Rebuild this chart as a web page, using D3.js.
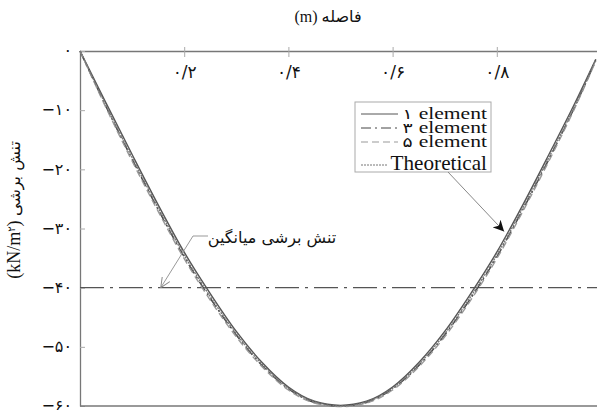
<!DOCTYPE html>
<html>
<head>
<meta charset="utf-8">
<script src="https://cdn.jsdelivr.net/npm/d3@7"></script>
<style>
  body { margin: 0; background: #fff; }
  svg { display: block; }
  text { font-family: "Liberation Serif", "DejaVu Sans", serif; fill: #111; }
  .fa { font-family: "DejaVu Sans", sans-serif; }
  .la { font-family: "Liberation Serif", serif; }
</style>
</head>
<body>
<div id="chart"></div>
<script>
// distance along the section (m) and shear stress (kN/m2)
const distance = [0, 0.05, 0.1, 0.15, 0.2, 0.25, 0.3, 0.35, 0.4, 0.45, 0.5, 0.55, 0.6, 0.65, 0.7, 0.75, 0.8, 0.85, 0.9, 0.95, 0.99];
const theoretical = [0, -9.2, -18, -26.5, -34.5, -41.5, -47.8, -53, -57, -59.3, -60, -59.3, -57, -53, -47.8, -41.5, -34.5, -26.5, -18, -9.2, -1.5];
const element1 = [0, -8.8, -17.5, -26, -34, -41, -47.4, -52.7, -56.8, -59.2, -59.9, -59.2, -56.8, -52.7, -47.4, -41, -34, -26, -17.5, -8.8, -1.4];
const element3 = [0, -9.4, -18.3, -26.8, -34.8, -41.8, -48, -53.2, -57.1, -59.4, -60, -59.4, -57.1, -53.2, -48, -41.8, -34.8, -26.8, -18.3, -9.4, -1.6];
const element5 = [0, -9.6, -18.6, -27.1, -35.1, -42.1, -48.3, -53.4, -57.3, -59.5, -60.1, -59.5, -57.3, -53.4, -48.3, -42.1, -35.1, -27.1, -18.6, -9.6, -1.7];
const averageStress = -40;

const xTicks = [0.2, 0.4, 0.6, 0.8];
const xTickLabels = ['۰/۲', '۰/۴', '۰/۶', '۰/۸'];
const yTicks = [0, -10, -20, -30, -40, -50, -60];
const yTickLabels = ['۰', '−۱۰', '−۲۰', '−۳۰', '−۴۰', '−۵۰', '−۶۰'];
const seriesDigits = ['۱', '۳', '۵', ''];
const seriesNames = ['element', 'element', 'element', 'Theoretical'];

const width = 597, height = 410;

const svg = d3.select('#chart')
  .append('svg')
    .attr('width', width)
    .attr('height', height);

const defs = svg.append('defs');
defs.append('marker')
    .attr('id', 'openArrow')
    .attr('viewBox', '0 0 10 10')
    .attr('refX', 10).attr('refY', 5)
    .attr('markerWidth', 10).attr('markerHeight', 10)
    .attr('markerUnits', 'userSpaceOnUse')
    .attr('orient', 'auto')
  .append('path')
    .attr('d', 'M0,0.5 L10,5 L0,9.5')
    .attr('fill', 'none')
    .attr('stroke', '#888')
    .attr('stroke-width', 1);
defs.append('marker')
    .attr('id', 'solidArrow')
    .attr('viewBox', '0 0 10 10')
    .attr('refX', 10).attr('refY', 5)
    .attr('markerWidth', 11).attr('markerHeight', 11)
    .attr('markerUnits', 'userSpaceOnUse')
    .attr('orient', 'auto')
  .append('path')
    .attr('d', 'M0,0 L10,5 L0,10 L3,5 Z')
    .attr('fill', '#111');

const x = d3.scaleLinear().domain([0, 1]).range([80, 601]);
const y = d3.scaleLinear().domain([0, -60]).range([51, 406]);

// top axis: ticks cross the line, labels under it
const xAxis = svg.append('g')
    .attr('transform', `translate(0,${y(0)})`)
    .call(d3.axisBottom(x)
      .tickValues(xTicks)
      .tickFormat((d, i) => xTickLabels[i])
      .tickSizeInner(6)
      .tickSizeOuter(0)
      .tickPadding(9));
xAxis.select('.domain').attr('stroke', '#777').attr('stroke-width', 1.3);
xAxis.selectAll('.tick line').attr('y1', -4).attr('stroke', '#aaa');
xAxis.selectAll('.tick text')
    .attr('class', 'fa')
    .style('font-size', '17px')
    .attr('fill', '#111');

const yAxis = svg.append('g')
    .attr('transform', `translate(${x(0)},0)`)
    .call(d3.axisLeft(y)
      .tickValues(yTicks)
      .tickFormat((d, i) => yTickLabels[i])
      .tickSizeInner(4)
      .tickSizeOuter(0)
      .tickPadding(4));
yAxis.select('.domain').attr('stroke', '#777').attr('stroke-width', 1.3);
yAxis.selectAll('.tick line').attr('x2', 5).attr('stroke', '#aaa');
yAxis.selectAll('.tick text')
    .attr('class', 'fa')
    .style('font-size', '16px')
    .attr('dy', '0.3em')
    .attr('fill', '#111');

svg.append('line')
    .attr('x1', x(0)).attr('x2', x(1))
    .attr('y1', y(-60)).attr('y2', y(-60))
    .attr('stroke', '#777')
    .attr('stroke-width', 1.3);

// average shear stress line
svg.append('line')
    .attr('x1', x(0)).attr('x2', x(1))
    .attr('y1', y(averageStress)).attr('y2', y(averageStress))
    .attr('stroke', '#555')
    .attr('stroke-width', 1.2)
    .attr('stroke-dasharray', '24,6,3,6');

const series = [
  {digit: seriesDigits[0], name: seriesNames[0], values: element1, color: '#555', dash: null},
  {digit: seriesDigits[1], name: seriesNames[1], values: element3, color: '#444', dash: '10,4,2,4'},
  {digit: seriesDigits[2], name: seriesNames[2], values: element5, color: '#999', dash: '7,4'},
  {digit: seriesDigits[3], name: seriesNames[3], values: theoretical, color: '#777', dash: '2,1'}
];

const line = d3.line()
  .x((d, i) => x(distance[i]))
  .y(d => y(d))
  .curve(d3.curveMonotoneX);

svg.selectAll('.curve')
  .data(series)
  .enter()
  .append('path')
    .attr('class', 'curve')
    .attr('d', d => line(d.values))
    .attr('fill', 'none')
    .attr('stroke', d => d.color)
    .attr('stroke-width', 1.4)
    .attr('stroke-dasharray', d => d.dash);

// titles
const xTitle = svg.append('text')
    .attr('x', 328).attr('y', 22)
    .attr('text-anchor', 'middle')
    .style('font-size', '16px');
xTitle.append('tspan').attr('class', 'la').text('(m) ');
xTitle.append('tspan').attr('class', 'fa').text('فاصله');

const yTitle = svg.append('text')
    .attr('transform', 'translate(20,210) rotate(-90)')
    .attr('text-anchor', 'middle')
    .style('font-size', '18px');
yTitle.append('tspan').attr('class', 'la').text('(kN/m');
yTitle.append('tspan').attr('class', 'fa').attr('baseline-shift', 'super').style('font-size', '10px').text('۲');
yTitle.append('tspan').attr('class', 'la').text(') ');
yTitle.append('tspan').attr('class', 'fa').style('font-size', '16px').text('تنش برشی');

// legend
const legend = svg.append('g');
legend.append('rect')
    .attr('x', 355).attr('y', 102)
    .attr('width', 136).attr('height', 70)
    .attr('fill', '#fff')
    .attr('stroke', '#aaa');

const legendRows = [114, 128, 142, 165];
const legendSize = [16, 16, 16, 20];
const legendStretch = [1.35, 1.35, 1.35, 1.06];
const legendLineEnd = [398, 397, 398, 388];

const item = legend.selectAll('.item')
  .data(series)
  .enter()
  .append('g')
    .attr('class', 'item');
item.append('line')
    .attr('x1', 361)
    .attr('x2', (d, i) => legendLineEnd[i])
    .attr('y1', (d, i) => legendRows[i])
    .attr('y2', (d, i) => legendRows[i])
    .attr('stroke', d => d.color)
    .attr('stroke-dasharray', d => d.dash);
const label = item.append('text')
    .attr('transform', (d, i) => `translate(487,${legendRows[i] + 5}) scale(${legendStretch[i]},1)`)
    .attr('text-anchor', 'end')
    .style('font-size', (d, i) => legendSize[i] + 'px');
label.append('tspan')
    .attr('class', 'fa')
    .style('font-size', '14px')
    .text(d => d.digit ? d.digit + ' ' : '');
label.append('tspan')
    .attr('class', 'la')
    .text(d => d.name);

// annotations
svg.append('path')
    .attr('d', `M208,236 L193,236 L${x(0.155)},${y(averageStress)}`)
    .attr('fill', 'none')
    .attr('stroke', '#999')
    .attr('marker-end', 'url(#openArrow)');
svg.append('text')
    .attr('class', 'fa')
    .attr('x', 272).attr('y', 243)
    .attr('text-anchor', 'middle')
    .attr('direction', 'rtl')
    .style('font-size', '16px')
    .text('تنش برشی میانگین');

svg.append('line')
    .attr('x1', 448).attr('y1', 172)
    .attr('x2', x(0.814)).attr('y2', y(-30.5))
    .attr('stroke', '#888')
    .attr('marker-end', 'url(#solidArrow)');
</script>
</body>
</html>
